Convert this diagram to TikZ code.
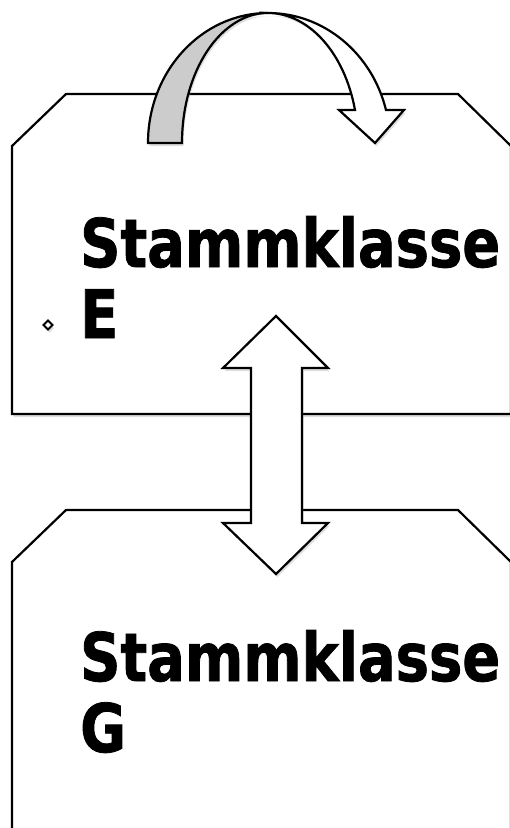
\documentclass[tikz,border=0pt]{standalone}
\usepackage{fontspec}
\usetikzlibrary{shadows}
\newfontfamily\boxfont[FakeStretch=0.835,FakeBold=1.2]{DejaVu Sans}
\tikzset{
  softshadow/.style={drop shadow={opacity=0.25,shadow xshift=1.5pt,shadow yshift=-3pt}},
  outline/.style={draw=black,line width=2.2pt,line join=miter},
  classtext/.style={anchor=base west,align=left,inner sep=0pt,
    font=\boxfont\bfseries\fontsize{67}{71}\selectfont}
}
\begin{document}
\begin{tikzpicture}[x=1pt,y=-1pt]
      \useasboundingbox (0,0) rectangle (510,828);
      \clip (0,0) rectangle (510,828);
      % the two classes
      \draw [outline,fill=white,softshadow] (66,94) -- (458,94) -- (511,146) -- (511,414) -- (12,414) -- (12,146) -- cycle;
      \draw [outline,fill=white,softshadow] (66,510) -- (458,510) -- (511,562) -- (511,845) -- (12,845) -- (12,562) -- cycle;
      \node [classtext] (classE) at (80,338) {Stammklasse\\E};
      \node [classtext] (classG) at (80,752) {Stammklasse\\G};
      \draw [line width=2pt,fill=white,softshadow] (48,320.5) -- (52.5,325) -- (48,329.5) -- (43.5,325) -- cycle;
      % double arrow between them
      \draw [outline,fill=white,softshadow] (276,316) -- (328,368) -- (302,368) -- (302,523) -- (328,523)
        -- (276,574) -- (223,523) -- (251,523) -- (251,368) -- (223,368) -- cycle;
      % arrow back to itself
      \draw [outline,fill=black!20,softshadow] (148,143) arc[start angle=180,end angle=270,x radius=120,y radius=130]
        arc[start angle=270,end angle=180,x radius=86,y radius=130] -- cycle;
      \draw [outline,fill=white,softshadow] (268,13) arc[start angle=270,end angle=345.3,x radius=122,y radius=130]
        -- (404,110) -- (375,143) -- (339,110) -- (355,110)
        arc[start angle=345.3,end angle=270,x radius=90,y radius=130] -- cycle;
    \end{tikzpicture}
\end{document}
